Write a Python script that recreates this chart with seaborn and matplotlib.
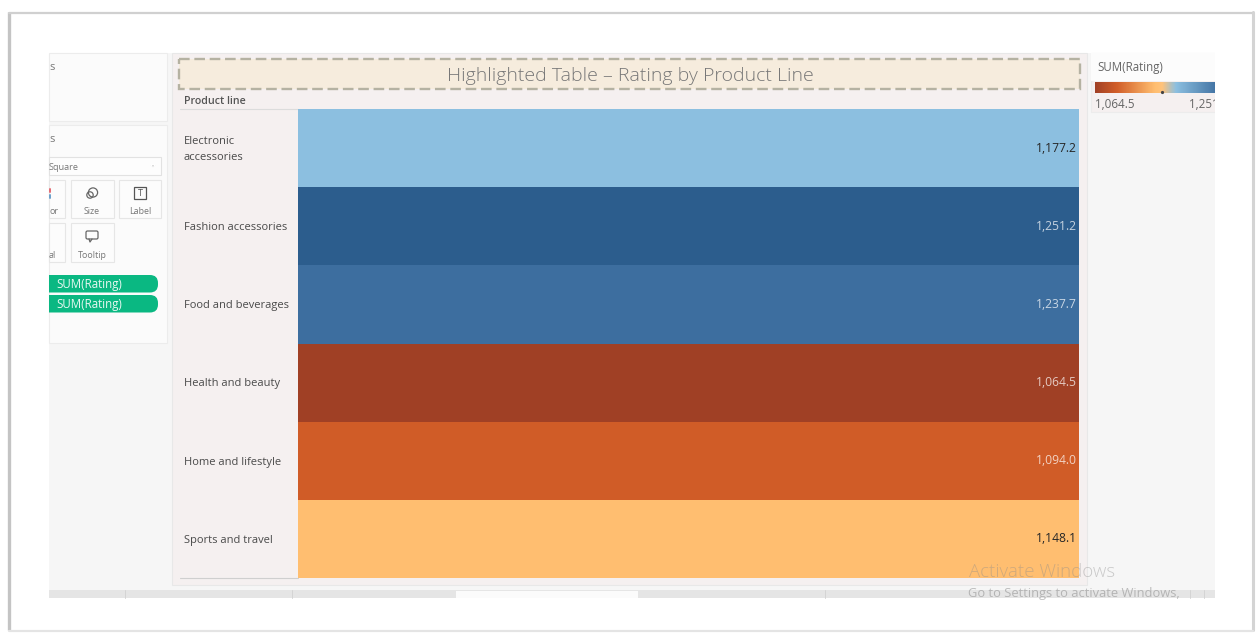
import numpy as np
import pandas as pd
import seaborn as sns
import matplotlib
matplotlib.use("Agg")
import matplotlib.pyplot as plt
from matplotlib.colors import LinearSegmentedColormap
from matplotlib.patches import Rectangle, FancyBboxPatch, Circle, Polygon
from matplotlib.transforms import ScaledTranslation

# ---- data ----
product_lines = ["Electronic\naccessories", "Fashion accessories", "Food and beverages",
                 "Health and beauty", "Home and lifestyle", "Sports and travel"]
ratings = [1177.2, 1251.2, 1237.7, 1064.5, 1094.0, 1148.1]
row_colours = ["#8CBFE0", "#2C5D8D", "#3D6E9F", "#A04025", "#D05C27", "#FFBE70"]
column_label = "SUM(Rating)"
title_text = "Highlighted Table \u2013 Rating by Product Line"
header_text = "Product line"

sns.set_theme(style="white")
plt.rcParams["font.family"] = ["Open Sans", "DejaVu Sans"]

W, H = 1256, 633
fig = plt.figure(figsize=(W / 100, H / 100), dpi=100, facecolor="white")


def axes_px(x0, y0, x1, y1, **kw):
    return fig.add_axes([x0 / W, 1 - y1 / H, (x1 - x0) / W, (y1 - y0) / H], **kw)


def overlay(z):
    a = axes_px(0, 0, W, H, zorder=z)
    a.set_xlim(0, W)
    a.set_ylim(H, 0)
    a.axis("off")
    a.patch.set_alpha(0)
    return a


def box(a, x0, y0, x1, y1, fc, ec="none", lw=0.8, **kw):
    a.add_patch(Rectangle((x0, y0), x1 - x0, y1 - y0, fc=fc, ec=ec, lw=lw, **kw))


# ---- background chrome ----
bg = overlay(0)
# screenshot frame
bg.plot([9, 9], [12, 630], color="#c4c4c4", lw=2.4, solid_capstyle="butt")
bg.plot([9, 1253], [12.5, 12.5], color="#d0d0d0", lw=1.6)
bg.plot([1253, 1253], [12, 630], color="#d4d4d4", lw=2.2)
bg.plot([9, 1253], [630.5, 630.5], color="#e4e4e4", lw=1.6)
# application area
box(bg, 49, 53, 1215, 598, "#f6f6f6")
box(bg, 49, 53, 167, 121, "#fbfbfb", "#ececec")
box(bg, 49, 125, 167, 343, "#fbfbfb", "#ececec")
bg.text(49, 67, "s", fontsize=8, color="#777777", va="center")
bg.text(49, 140, "s", fontsize=8, color="#777777", va="center")
# mark type drop-down
box(bg, 49, 157, 161, 175, "#fdfdfd", "#e2e2e2")
bg.text(49, 167, "Square", fontsize=6.6, color="#777777", va="center")
bg.add_patch(Polygon([[150.5, 165], [155.5, 165], [153, 167.5]], fc="#555555"))
# mark cards
for x0, y0, x1, y1 in [(49, 180, 65, 218), (71, 180, 114, 218), (119, 180, 161, 218),
                       (49, 223, 65, 262), (71, 223, 114, 262)]:
    box(bg, x0, y0, x1, y1, "#fcfcfc", "#e6e6e6")
bg.text(49, 212, "or", fontsize=6.4, color="#777777", va="center")
bg.text(49, 255, "al", fontsize=6.4, color="#777777", va="center")
bg.text(92, 212, "Size", fontsize=6.4, color="#777777", va="center", ha="center")
bg.text(140, 212, "Label", fontsize=6.4, color="#777777", va="center", ha="center")
bg.text(92, 255, "Tooltip", fontsize=6.4, color="#777777", va="center", ha="center")
bg.add_patch(Circle((90, 195), 3.2, fc="none", ec="#666666", lw=0.9))
bg.add_patch(Circle((93, 192.5), 4.6, fc="none", ec="#666666", lw=0.9))
box(bg, 134, 187, 146, 199, "none", "#555555", lw=0.9)
bg.text(140, 193.5, "T", fontsize=6.5, color="#555555", ha="center", va="center")
bg.add_patch(FancyBboxPatch((86, 231), 12, 8, boxstyle="round,pad=0,rounding_size=1.5",
                            fc="none", ec="#666666", lw=0.9))
bg.plot([89, 90, 92], [239, 242, 239], color="#666666", lw=0.9)
bg.plot([50, 50], [189, 192], color="#e46a72", lw=1.4)
bg.plot([50, 50], [195, 198], color="#6a9fca", lw=1.4)
# shelf pills
for y0 in (275, 295):
    pill = FancyBboxPatch((40, y0), 118, 17.5, boxstyle="round,pad=0,rounding_size=8",
                          fc="#0AB882", ec="none")
    bg.add_patch(pill)
    pill.set_clip_path(Rectangle((49, 0), W, H, transform=bg.transData))
    bg.text(56, y0 + 9.5, column_label, fontsize=8.3, color="#e8f8f2", va="center")
# dashboard pane
box(bg, 172, 53, 1087, 585, "#F5F0F0", "#e8e8e8")
box(bg, 179, 59, 1080, 89, "#F6ECDD", "#B5B2A2", lw=1.7, ls=(0, (4.5, 2)))
bg.text(630, 76, title_text, fontsize=14.0, color="#777777", ha="center", va="center",
        fontweight="light")
bg.text(184.5, 102, header_text, fontsize=7.7, color="#555555", va="center", fontweight="semibold")
bg.plot([180, 298], [109, 109], color="#dcdcdc", lw=0.8)
bg.plot([180, 298], [578, 578], color="#cfcfcf", lw=0.8)
# legend panel
box(bg, 1091, 53, 1225, 112, "#F5F0F0", "#ececec")
box(bg, 1091, 53, 1225, 81, "#fcfcfc")
bg.text(1097, 67, column_label, fontsize=8.3, color="#666666", va="center")
# bottom tabs
box(bg, 49, 590, 1215, 598, "#E5E5E5")
box(bg, 456, 591, 638, 598, "#FBFBFB")
for x in (125, 292, 825, 1190, 1204):
    bg.plot([x, x], [590, 598], color="#d4d4d4", lw=0.7)

# ---- highlight table ----
order = np.argsort(ratings)
stops = [((ratings[i] - min(ratings)) / (max(ratings) - min(ratings)), row_colours[i]) for i in order]
stops.insert(3, (0.5, "#FFC27A"))
cmap = LinearSegmentedColormap.from_list("rating", stops)

table = pd.DataFrame({column_label: ratings}, index=product_lines)
ax = axes_px(298, 109, 1079, 578, zorder=1)
cax = axes_px(1095, 82, 1229, 93, zorder=1)
sns.heatmap(table, ax=ax, cmap=cmap, vmin=min(ratings), vmax=max(ratings), annot=True,
            fmt=",.1f", annot_kws={"ha": "right", "fontsize": 8.7}, xticklabels=False,
            cbar_ax=cax, cbar_kws={"orientation": "horizontal", "ticks": [min(ratings), max(ratings)],
                                   "format": "{x:,.1f}"})
for t in ax.texts:
    t.set_x(0.9975)
    if t.get_color() == "w":
        t.set_alpha(0.72)
ax.set_ylabel("")
ax.set_xlabel("")
ax.tick_params(axis="y", length=0, pad=82.1, left=False)
nudge = ScaledTranslation(0, -1 / 72, fig.dpi_scale_trans)
for lab in ax.get_yticklabels():
    lab.set(rotation=0, ha="left", fontsize=8.0, color="#4a4a4a", fontweight="medium", linespacing=1.6)
    lab.set_transform(lab.get_transform() + nudge)

cax.tick_params(axis="x", length=0, pad=3.5, labelsize=8.4, labelcolor="#666666")
labs = cax.get_xticklabels()
labs[0].set_ha("left")
labs[1].set_ha("right")
cax.plot([(min(ratings) + max(ratings)) / 2], [0.05], marker="o", ms=1.3, color="#444444", clip_on=False)

# ---- foreground: crop of the screenshot and OS watermark ----
fg = overlay(2)
box(fg, 1215, 50, 1251, 600, "white")
fg.text(969, 572, "Activate Windows", fontsize=13.4, color="#8c8c8c", alpha=0.42, va="center", fontweight="light")
fg.text(968, 594, "Go to Settings to activate Windows,", fontsize=9.25, color="#8c8c8c", alpha=0.55, va="center")

fig.savefig("out.png", dpi=100)
